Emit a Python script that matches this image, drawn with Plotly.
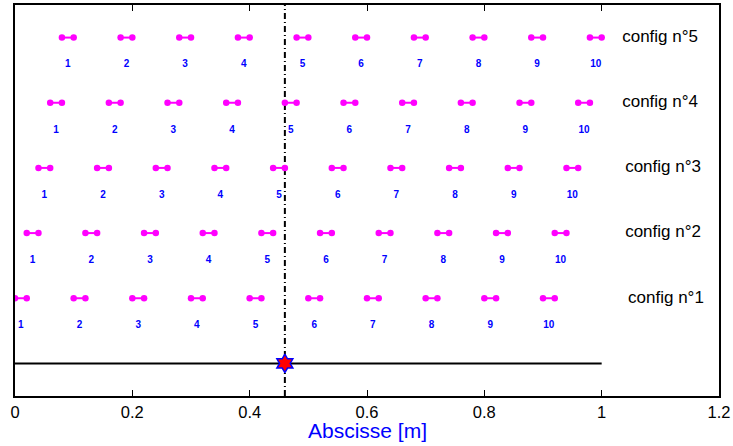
import plotly.graph_objects as go

# ---- data ----
config_names = ["config n°1", "config n°2", "config n°3", "config n°4", "config n°5"]
config_levels = [1, 2, 3, 4, 5]
pair_numbers = ["1", "2", "3", "4", "5", "6", "7", "8", "9", "10"]
pair_left = {
    1: [0.00, 0.10, 0.20, 0.30, 0.40, 0.50, 0.60, 0.70, 0.80, 0.90],
    2: [0.02, 0.12, 0.22, 0.32, 0.42, 0.52, 0.62, 0.72, 0.82, 0.92],
    3: [0.04, 0.14, 0.24, 0.34, 0.44, 0.54, 0.64, 0.74, 0.84, 0.94],
    4: [0.06, 0.16, 0.26, 0.36, 0.46, 0.56, 0.66, 0.76, 0.86, 0.96],
    5: [0.08, 0.18, 0.28, 0.38, 0.48, 0.58, 0.68, 0.78, 0.88, 0.98],
}
pair_length = 0.02
label_x = [1.045, 1.04, 1.04, 1.035, 1.035]
baseline_x = [0.0, 1.0]
baseline_y = [0.0, 0.0]
source_x = 0.46
source_y = 0.0
x_ticks = [0, 0.2, 0.4, 0.6, 0.8, 1.0, 1.2]
x_tick_text = ["0", "0.2", "0.4", "0.6", "0.8", "1", "1.2"]

fig = go.Figure()

# vertical dashed line
fig.add_trace(go.Scatter(x=[source_x, source_x], y=[-0.5, 5.5], mode="lines",
                         line=dict(color="black", width=2, dash="6px,3px,1px,3px"),
                         hoverinfo="skip", showlegend=False))

for c in config_levels:
    xs, ys, tx, ty = [], [], [], []
    for l in pair_left[c]:
        xs += [l, l + pair_length, None]
        ys += [c, c, None]
        tx.append(l + pair_length / 2)
        ty.append(c - 0.42)
    fig.add_trace(go.Scatter(x=xs, y=ys, mode="lines+markers",
                             line=dict(color="#ff00ff", width=2),
                             marker=dict(color="#ff00ff", size=6.5),
                             showlegend=False))
    fig.add_trace(go.Scatter(x=tx, y=ty, mode="text", text=pair_numbers,
                             textfont=dict(color="#0000ff", size=10,
                                           family="Liberation Sans, Arial",
                                           weight="bold"),
                             showlegend=False))

# config labels
fig.add_trace(go.Scatter(x=label_x, y=config_levels, mode="text",
                         text=config_names, textposition="middle right",
                         textfont=dict(color="black", size=17,
                                       family="Liberation Sans, Arial"),
                         showlegend=False))

# baseline
fig.add_trace(go.Scatter(x=baseline_x, y=baseline_y, mode="lines",
                         line=dict(color="black", width=2), showlegend=False))

# source star
fig.add_trace(go.Scatter(x=[source_x], y=[source_y], mode="markers",
                         marker=dict(symbol="hexagram", size=14, color="red",
                                     line=dict(color="blue", width=1.5)),
                         showlegend=False))

fig.update_layout(
    width=733, height=446,
    margin=dict(l=15, r=14, t=5, b=50),
    plot_bgcolor="white", paper_bgcolor="white",
    font=dict(family="Liberation Sans, Arial", size=17, color="black"),
    xaxis=dict(range=[0, 1.2], tickvals=x_ticks, ticktext=x_tick_text,
               showgrid=False, zeroline=False, showline=True, linecolor="black",
               linewidth=1.5, mirror="ticks", ticks="inside", ticklen=6,
               tickcolor="black", automargin=False,
               tickfont=dict(size=16.5)),
    yaxis=dict(range=[-0.5, 5.5], showticklabels=False, showgrid=False,
               zeroline=False, showline=True, linecolor="black", linewidth=1.5,
               mirror=True, ticks="", automargin=False),
    annotations=[dict(text="Abscisse [m]", x=0.5, xref="paper", y=-0.123,
                      yref="paper", yanchor="bottom", showarrow=False,
                      font=dict(color="#0000ff", size=21))],
)

fig.write_html("out.html", post_script="document.body.style.margin='0';",
               config={"displayModeBar": False})
